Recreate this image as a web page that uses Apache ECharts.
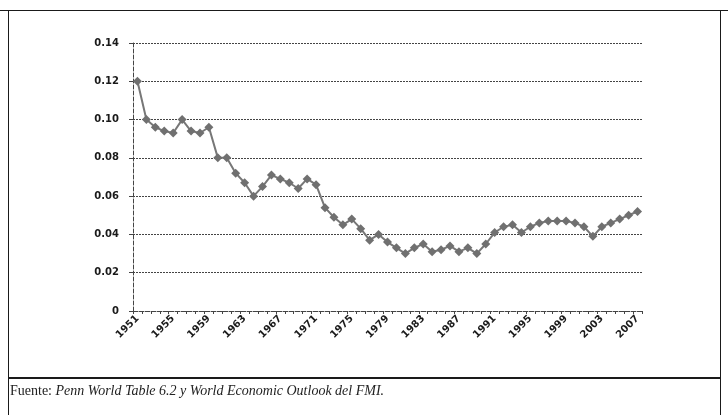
<!DOCTYPE html>
<html>
<head>
<meta charset="utf-8">
<script src="https://cdn.jsdelivr.net/npm/echarts@6/dist/echarts.min.js"></script>
<style>
  html, body { margin: 0; padding: 0; background: #fff; }
  #wrap { position: relative; width: 728px; height: 415px; overflow: hidden; }
  #chart { position: absolute; left: 0; top: 0; width: 728px; height: 415px; }
  .rule { position: absolute; background: #1a1a1a; }
  #note {
    position: absolute; left: 10px; top: 383px;
    font-family: "Liberation Serif", serif; font-size: 14px; color: #222;
  }
  #note i { font-style: italic; }
</style>
</head>
<body>
<div id="wrap">
  <div id="chart"></div>
  <div class="rule" style="left:0;top:10px;width:728px;height:1px;"></div>
  <div class="rule" style="left:8px;top:10px;width:1px;height:405px;"></div>
  <div class="rule" style="left:720px;top:10px;width:1px;height:405px;"></div>
  <div class="rule" style="left:8px;top:377px;width:713px;height:2px;"></div>
  <div id="note">Fuente: <i>Penn World Table 6.2 y World Economic Outlook del FMI.</i></div>
</div>
<script>
// años 1951-2007
const years = [];
for (let y = 1951; y <= 2007; y++) years.push(String(y));

// valores
const values = [
  0.120, 0.100, 0.096, 0.094, 0.093, 0.100, 0.094, 0.093, 0.096, 0.080,
  0.080, 0.072, 0.067, 0.060, 0.065, 0.071, 0.069, 0.067, 0.064, 0.069,
  0.066, 0.054, 0.049, 0.045, 0.048, 0.043, 0.037, 0.040, 0.036, 0.033,
  0.030, 0.033, 0.035, 0.031, 0.032, 0.034, 0.031, 0.033, 0.030, 0.035,
  0.041, 0.044, 0.045, 0.041, 0.044, 0.046, 0.047, 0.047, 0.047, 0.046,
  0.044, 0.039, 0.044, 0.046, 0.048, 0.050, 0.052
];

const chart = echarts.init(document.getElementById('chart'));
const labelFont = { fontFamily: 'DejaVu Sans', fontWeight: 'bold', color: '#1a1a1a' };

chart.setOption({
  animation: false,
  grid: { left: 133, right: 86, top: 43, bottom: 104 },
  xAxis: {
    type: 'category',
    data: years,
    boundaryGap: true,
    axisLine: { lineStyle: { color: '#444', type: 'dashed', width: 1 } },
    axisTick: { show: true, interval: 0, length: 3, lineStyle: { color: '#444' } },
    axisLabel: Object.assign({ interval: 3, rotate: 45, fontSize: 10, margin: 6 }, labelFont),
    splitLine: { show: false }
  },
  yAxis: {
    type: 'value',
    min: 0,
    max: 0.14,
    interval: 0.02,
    axisLine: { show: true, lineStyle: { color: '#444', type: 'dashed', width: 1 } },
    axisTick: { show: true, length: 4, lineStyle: { color: '#444' } },
    axisLabel: Object.assign({
      fontSize: 10, margin: 14,
      formatter: v => v === 0 ? '0' : v.toFixed(2)
    }, labelFont),
    splitLine: { show: true, lineStyle: { color: '#444', type: [2, 1], width: 1 } }
  },
  series: [{
    type: 'line',
    data: values,
    symbol: 'diamond',
    symbolSize: 9,
    showAllSymbol: true,
    lineStyle: { color: '#777', width: 2 },
    itemStyle: { color: '#707070' }
  }]
});
</script>
</body>
</html>
